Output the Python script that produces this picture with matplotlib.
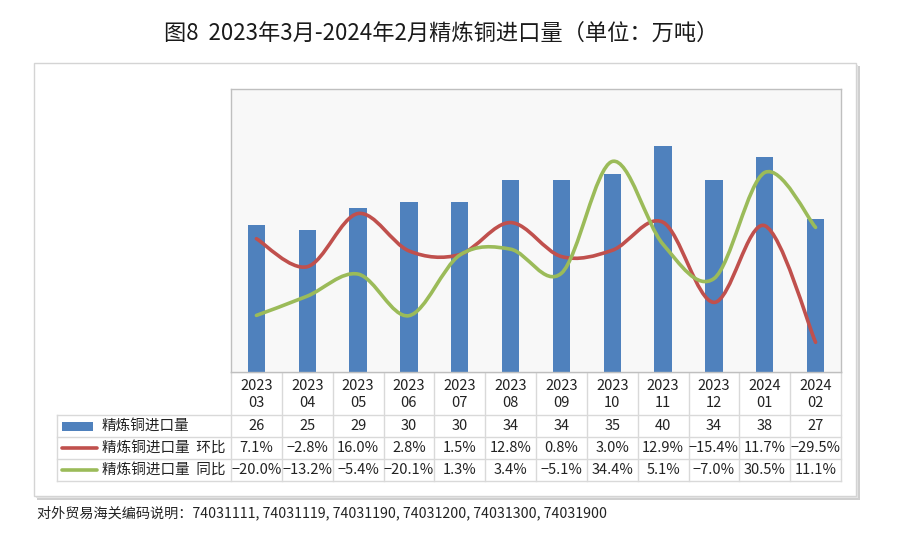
import matplotlib
matplotlib.use("Agg")
import matplotlib.pyplot as plt
from matplotlib.path import Path
from matplotlib.patches import PathPatch, Rectangle
from matplotlib.transforms import blended_transform_factory
import numpy as np

plt.rcParams['font.family'] = ['Noto Sans CJK SC', 'DejaVu Sans']

months = ["2023\n03", "2023\n04", "2023\n05", "2023\n06", "2023\n07", "2023\n08",
          "2023\n09", "2023\n10", "2023\n11", "2023\n12", "2024\n01", "2024\n02"]
imports = [26, 25, 29, 30, 30, 34, 34, 35, 40, 34, 38, 27]
mom = [7.1, -2.8, 16.0, 2.8, 1.5, 12.8, 0.8, 3.0, 12.9, -15.4, 11.7, -29.5]
yoy = [-20.0, -13.2, -5.4, -20.1, 1.3, 3.4, -5.1, 34.4, 5.1, -7.0, 30.5, 11.1]
row_labels = ["精炼铜进口量", "精炼铜进口量  环比", "精炼铜进口量  同比"]
title = "图8  2023年3月-2024年2月精炼铜进口量（单位：万吨）"
footer = "对外贸易海关编码说明：74031111, 74031119, 74031190, 74031200, 74031300, 74031900"

BAR = "#4f81bd"
RED = "#c0504d"
GREEN = "#9bbb59"
GRID = "#d9d9d9"

W, H = 900, 549
fig = plt.figure(figsize=(W / 100, H / 100), dpi=100)

# pixel-space overlay
bg = fig.add_axes([0, 0, 1, 1])
bg.set_xlim(0, W)
bg.set_ylim(H, 0)
bg.axis("off")

# outer box with shadow
bg.add_patch(Rectangle((37, 66), 823, 434, facecolor="#cfcfcf", edgecolor="none", zorder=0))
bg.add_patch(Rectangle((35.5, 64.5), 822, 433, facecolor="#e6e6e6", edgecolor="none", zorder=0.5))
bg.add_patch(Rectangle((34, 63), 822, 433, facecolor="white", edgecolor="#d4d4d4", lw=1, zorder=1))

# main plot area
L, R, T, B = 231, 841, 89, 372
ax = fig.add_axes([L / W, 1 - B / H, (R - L) / W, (B - T) / H])
ax.set_facecolor("#f8f8f8")
x = np.arange(len(months))
ax.bar(x, imports, width=0.34, color=BAR, zorder=2)
ax.set_xlim(-0.5, len(months) - 0.5)
ax.set_ylim(0, 50)
ax.set_xticks([])
ax.set_yticks([])
for s in ax.spines.values():
    s.set_color("#bfbfbf")
    s.set_linewidth(1)

ax2 = ax.twinx()
ax2.set_ylim(-40, 60)
ax2.set_yticks([])
for s in ax2.spines.values():
    s.set_visible(False)


def smooth_path(xs, ys):
    pts = np.column_stack([xs, ys]).astype(float)
    n = len(pts)
    verts = [pts[0]]
    codes = [Path.MOVETO]
    for i in range(n - 1):
        p0 = pts[i - 1] if i > 0 else pts[i]
        p1 = pts[i]
        p2 = pts[i + 1]
        p3 = pts[i + 2] if i + 2 < n else pts[i + 1]
        c1 = p1 + (p2 - p0) / 6.0
        c2 = p2 - (p3 - p1) / 6.0
        verts += [c1, c2, p2]
        codes += [Path.CURVE4] * 3
    return Path(verts, codes)


for vals, col in [(mom, RED), (yoy, GREEN)]:
    ax2.add_patch(PathPatch(smooth_path(x, vals), facecolor="none", edgecolor=col,
                            lw=2.6, capstyle="round", joinstyle="round", zorder=3))

# table
colw = (R - L) / len(months)
tl = 57
rows_y = [B, 415, 437, 459, 481]
lk = dict(color=GRID, lw=1, zorder=2)
bg.plot([L, R], [rows_y[0], rows_y[0]], **lk)
for yy in rows_y[1:]:
    bg.plot([tl, R], [yy, yy], **lk)
for i in range(len(months) + 1):
    xx = L + i * colw
    bg.plot([xx, xx], [rows_y[0], rows_y[-1]], **lk)
bg.plot([tl, tl], [rows_y[1], rows_y[-1]], **lk)

tr = blended_transform_factory(ax.transData, bg.transData)
fs = 10.5
for i, m in enumerate(months):
    bg.text(i, (rows_y[0] + rows_y[1]) / 2 + 1, m, transform=tr, ha="center", va="center",
            fontsize=fs, linespacing=1.25, color="#222222", zorder=3)
    bg.text(i, (rows_y[1] + rows_y[2]) / 2, f"{imports[i]}", transform=tr, ha="center",
            va="center", fontsize=fs, color="#222222", zorder=3)
    bg.text(i, (rows_y[2] + rows_y[3]) / 2, f"{mom[i]:.1f}%".replace("-", "−"), transform=tr,
            ha="center", va="center", fontsize=fs, color="#222222", zorder=3)
    bg.text(i, (rows_y[3] + rows_y[4]) / 2, f"{yoy[i]:.1f}%".replace("-", "−"), transform=tr,
            ha="center", va="center", fontsize=fs, color="#222222", zorder=3)

yc = [(rows_y[k] + rows_y[k + 1]) / 2 for k in range(1, 4)]
bg.add_patch(Rectangle((62, yc[0] - 4.5), 31, 9, facecolor=BAR, edgecolor="none", zorder=3))
bg.plot([62, 97], [yc[1], yc[1]], color=RED, lw=2.6, solid_capstyle="round", zorder=3)
bg.plot([62, 97], [yc[2], yc[2]], color=GREEN, lw=2.6, solid_capstyle="round", zorder=3)
for k, lab in enumerate(row_labels):
    bg.text(102, yc[k], lab, ha="left", va="center", fontsize=fs, color="#222222", zorder=3)

bg.text(441, 33, title, ha="center", va="center", fontsize=16, fontweight="medium",
        color="#1a1a1a", zorder=3)
bg.text(37, 513, footer, ha="left", va="center", fontsize=10.2, color="#222222", zorder=3)

fig.savefig("out.png", dpi=100)
